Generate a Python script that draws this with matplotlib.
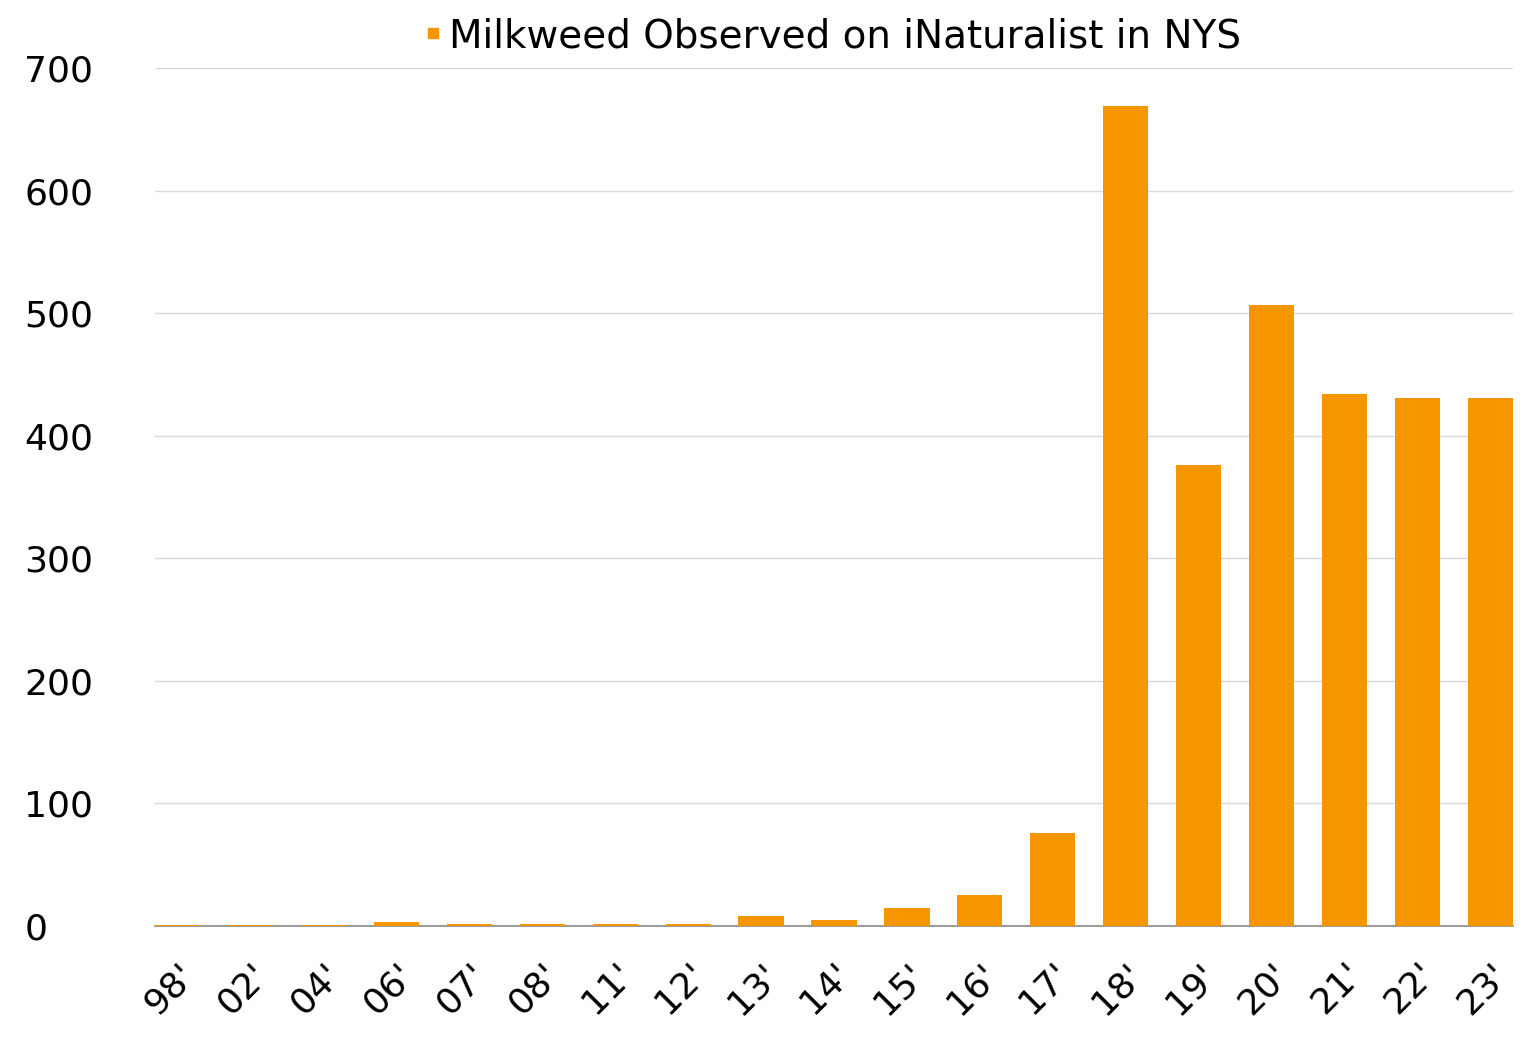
import matplotlib
matplotlib.use("Agg")
import matplotlib.pyplot as plt
from matplotlib.lines import Line2D

years = ["98'", "02'", "04'", "06'", "07'", "08'", "11'", "12'", "13'", "14'",
         "15'", "16'", "17'", "18'", "19'", "20'", "21'", "22'", "23'"]
counts = [1, 1, 1, 3, 2, 2, 2, 2, 8, 5, 15, 25, 76, 669, 376, 507, 434, 431, 431]
series_name = "Milkweed Observed on iNaturalist in NYS"
color = "#F59500"

plt.rcParams['font.family'] = ['DejaVu Sans']
fig = plt.figure(figsize=(15.27, 10.43), dpi=100)
ax = fig.add_axes([155/1527, 1-926/1043, (1513-155)/1527, (926-68)/1043])

x = list(range(len(years)))
bw = 0.62
ax.bar(x, counts, width=bw, color=color, zorder=3)
ax.set_xlim(-bw/2, len(years) - 1 + bw/2)
ax.set_ylim(0, 700)
ax.set_yticks(range(0, 701, 100))
ax.set_xticks(x)
ax.set_xticklabels(years, rotation=45, ha='right', rotation_mode='anchor', fontsize=26)
ax.tick_params(axis='y', labelsize=26, length=0, pad=94)
ax.tick_params(axis='x', length=0, pad=22)
for lbl in ax.get_yticklabels():
    lbl.set_horizontalalignment('left')
ax.yaxis.grid(True, color='#d9d9d9', linewidth=1, zorder=0)
for s in ['top', 'right', 'left']:
    ax.spines[s].set_visible(False)
ax.spines['bottom'].set_color('#888888')
ax.spines['bottom'].set_linewidth(1.2)

handle = Line2D([], [], marker='s', linestyle='none', color=color, markersize=7)
fig.legend([handle], [series_name], loc='center', bbox_to_anchor=(831/1527, 1-36/1043),
           frameon=False, fontsize=28, handletextpad=0.1, handlelength=0.6)

fig.savefig("out.png", dpi=100, facecolor='white')
